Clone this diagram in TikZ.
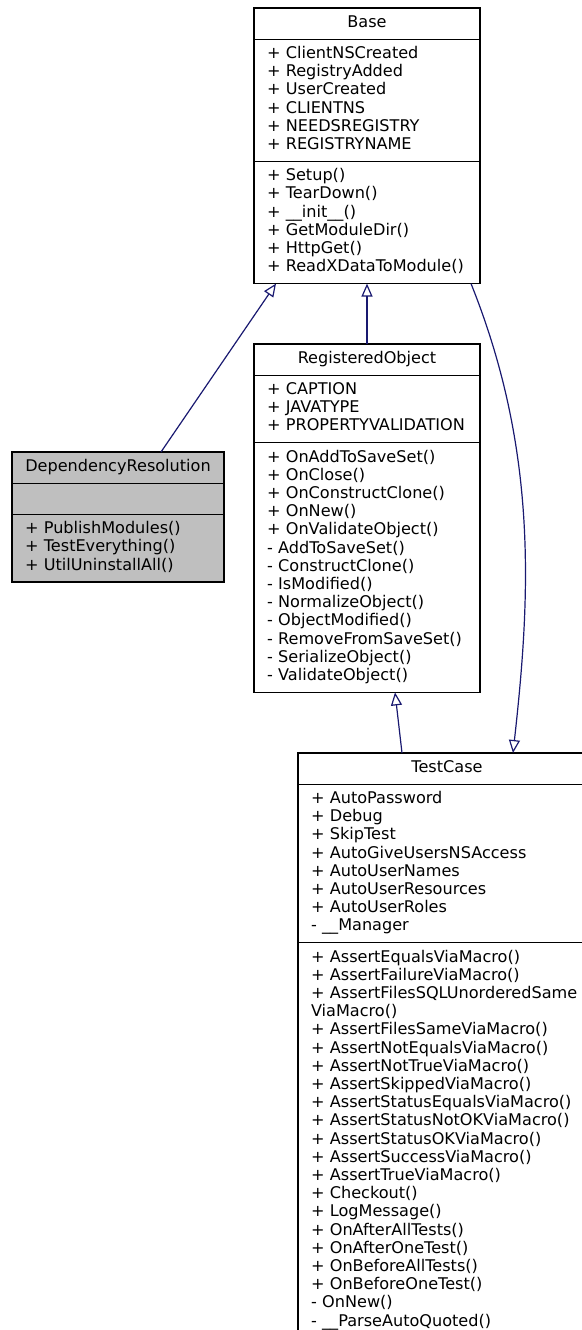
\documentclass[tikz,border=0pt]{standalone}
\usepackage{fontspec}
\setmainfont{DejaVu Sans}
\usetikzlibrary{positioning,calc,arrows.meta}
\definecolor{edgeblue}{HTML}{191970}
\definecolor{shadegray}{HTML}{BFBFBF}

\begin{document}
\begin{tikzpicture}[x=1pt,y=-1pt,node distance=0pt,
  box/.style={draw,line width=1.2pt,outer sep=0pt,inner xsep=13pt,inner ysep=6.5pt,
    font=\fontsize{16.1}{18.2}\selectfont,
    execute at begin node=\strut,execute at end node=\strut},
  classtitle/.style={box,align=center},
  classbody/.style={box,align=left},
  inherit/.style={draw=edgeblue,line width=1.2pt,
    -{Triangle[open,length=13pt,width=11pt]}}]
\useasboundingbox (0,0) rectangle (581,1330);

% base class
\node[classtitle,text width=200pt,anchor=north west] (base) at (254,8) {Base};
\node[classbody,text width=200pt,below=of base] (baseattr) {+ ClientNSCreated\\+ RegistryAdded\\+ UserCreated\\+ CLIENTNS\\+ NEEDSREGISTRY\\+ REGISTRYNAME};
\node[classbody,text width=200pt,below=of baseattr] (baseops) {+ Setup()\\+ TearDown()\\+ \_\_init\_\_()\\+ GetModuleDir()\\+ HttpGet()\\+ ReadXDataToModule()};

% the shaded one
\node[classtitle,fill=shadegray,text width=186pt,anchor=north west] (depres) at (12,452) {DependencyResolution};
\node[classbody,fill=shadegray,text width=186pt,below=of depres] (depresattr) {};
\node[classbody,fill=shadegray,text width=186pt,below=of depresattr] (depresops) {+ PublishModules()\\+ TestEverything()\\+ UtilUninstallAll()};

\node[classtitle,text width=200pt,anchor=north west] (regobj) at (254,344) {RegisteredObject};
\node[classbody,text width=200pt,below=of regobj] (regobjattr) {+ CAPTION\\+ JAVATYPE\\+ PROPERTYVALIDATION};
\node[classbody,text width=200pt,below=of regobjattr] (regobjops) {+ OnAddToSaveSet()\\+ OnClose()\\+ OnConstructClone()\\+ OnNew()\\+ OnValidateObject()\\- AddToSaveSet()\\- ConstructClone()\\- IsModified()\\- NormalizeObject()\\- ObjectModified()\\- RemoveFromSaveSet()\\- SerializeObject()\\- ValidateObject()};

\node[classtitle,text width=272pt,anchor=north west] (testcase) at (298,753) {TestCase};
\node[classbody,text width=272pt,below=of testcase] (testcaseattr) {+ AutoPassword\\+ Debug\\+ SkipTest\\+ AutoGiveUsersNSAccess\\+ AutoUserNames\\+ AutoUserResources\\+ AutoUserRoles\\- \_\_Manager};
\node[classbody,text width=272pt,below=of testcaseattr] (testcaseops) {+ AssertEqualsViaMacro()\\+ AssertFailureViaMacro()\\+ AssertFilesSQLUnorderedSame\\ViaMacro()\\+ AssertFilesSameViaMacro()\\+ AssertNotEqualsViaMacro()\\+ AssertNotTrueViaMacro()\\+ AssertSkippedViaMacro()\\+ AssertStatusEqualsViaMacro()\\+ AssertStatusNotOKViaMacro()\\+ AssertStatusOKViaMacro()\\+ AssertSuccessViaMacro()\\+ AssertTrueViaMacro()\\+ Checkout()\\+ LogMessage()\\+ OnAfterAllTests()\\+ OnAfterOneTest()\\+ OnBeforeAllTests()\\+ OnBeforeOneTest()\\- OnNew()\\- \_\_ParseAutoQuoted()};

% inheritance
\draw[inherit] ($(depres.north west)+(149,0)$) -- ($(baseops.south west)+(22,0)$);
\draw[inherit] (regobj.north) -- (baseops.south);
\draw[inherit] ($(testcase.north west)+(104,0)$) -- ($(regobjops.south west)+(141,0)$);
\draw[inherit] ($(baseops.south west)+(217,0)$) .. controls (539,453) and (530,600) .. ($(testcase.north west)+(215,0)$);
\end{tikzpicture}
\end{document}
